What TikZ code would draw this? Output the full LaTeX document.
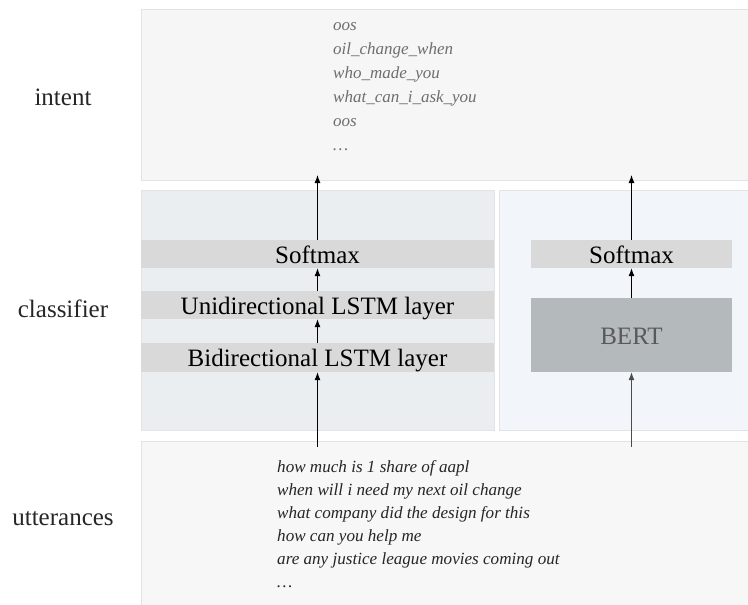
\documentclass[tikz,border=0pt]{standalone}
\usepackage{fontspec}
\setmainfont{Liberation Serif}
\usetikzlibrary{arrows.meta}
\definecolor{intentbg}{HTML}{F6F6F6}
\definecolor{lstmbg}{HTML}{EAEEF1}
\definecolor{bertbg}{HTML}{F2F6FA}
\definecolor{uttbg}{HTML}{F7F7F7}
\definecolor{panelline}{HTML}{E3E3E3}
\definecolor{barcol}{HTML}{D9D9D9}
\definecolor{bertcol}{HTML}{B4B9BB}
\definecolor{intenttext}{HTML}{6E6E6E}
\tikzset{
  panel/.style={draw=panelline, line width=0.6pt, anchor=north west, inner sep=0pt},
  layer/.style={fill=barcol, inner sep=0pt, minimum height=28pt,
    font=\fontsize{25}{28}\selectfont, text height=20pt, text depth=2pt},
  rowlabel/.style={anchor=base, font=\fontsize{25}{28}\selectfont, text=black!85},
  flow/.style={-{Latex[length=8pt,width=6pt]}, line width=1pt}
}
\begin{document}
\begin{tikzpicture}
\useasboundingbox (0pt,0pt) rectangle (748pt,-605pt);
% the three bands
\node[panel, fill=intentbg, minimum width=612pt, minimum height=171pt] (intentbox) at (141pt,-9pt) {};
\node[panel, fill=lstmbg, minimum width=353pt, minimum height=240pt] (lstmbox) at (141pt,-190pt) {};
\node[panel, fill=bertbg, minimum width=254pt, minimum height=240pt] (bertbox) at (499pt,-190pt) {};
\node[panel, fill=uttbg, minimum width=612pt, minimum height=170pt] (uttbox) at (141pt,-441pt) {};
% row labels
\node[rowlabel] (intentlbl) at (63pt,-105pt) {intent};
\node[rowlabel] (classlbl) at (63pt,-317pt) {classifier};
\node[rowlabel] (uttlbl) at (63pt,-525pt) {utterances};
% LSTM classifier
\node[layer, minimum width=353pt] (lsoft) at (317.5pt,-254pt) {Softmax};
\node[layer, minimum width=353pt] (unilstm) at (317.5pt,-305pt) {Unidirectional LSTM layer};
\node[layer, minimum width=353pt, minimum height=29pt] (bilstm) at (317.5pt,-357.5pt) {Bidirectional LSTM layer};
% BERT classifier
\node[layer, minimum width=201pt] (rsoft) at (631.5pt,-254pt) {Softmax};
\node[layer, fill=bertcol, text=black!65, minimum width=201pt, minimum height=74pt] (bert) at (631.5pt,-335pt) {BERT};
% intents
\foreach \txt [count=\i] in {oos, oil\_change\_when, who\_made\_you, what\_can\_i\_ask\_you, oos, \dots}
  \node[anchor=base west, inner sep=0pt, text=intenttext, font=\fontsize{17}{20}\selectfont\itshape] (intent\i) at (333pt,{-30.5pt-24pt*(\i-1)}) {\txt};
% utterances
\foreach \txt [count=\i] in {how much is 1 share of aapl, when will i need my next oil change,
    what company did the design for this, how can you help me,
    are any justice league movies coming out, \dots}
  \node[anchor=base west, inner sep=0pt, text=black!85, font=\fontsize{17.1}{20}\selectfont\itshape] (utt\i) at (277pt,{-472pt-23pt*(\i-1)}) {\txt};
% arrows
\coordinate (lin) at (317.5pt,-447pt);
\coordinate (rin) at (631.5pt,-447pt);
\coordinate (lout) at (317.5pt,-175pt);
\coordinate (rout) at (631.5pt,-175pt);
\draw[flow] (lin) -- (bilstm);
\draw[flow] (bilstm) -- (unilstm);
\draw[flow] (unilstm) -- (lsoft);
\draw[flow] (lsoft) -- (lout);
\draw[flow, black!70] (rin) -- (bert);
\draw[flow] (bert) -- (rsoft);
\draw[flow] (rsoft) -- (rout);
\end{tikzpicture}
\end{document}
